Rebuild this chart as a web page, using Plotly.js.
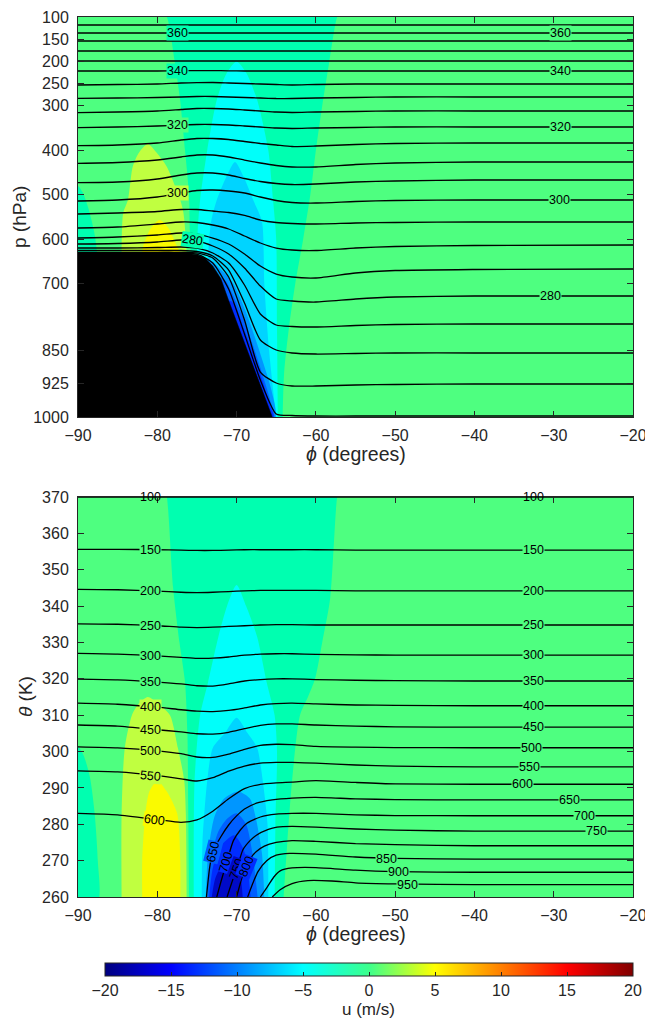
<!DOCTYPE html>
<html><head><meta charset="utf-8">
<script src="https://cdn.plot.ly/plotly-3.0.1.min.js"></script>
<style>html,body{margin:0;padding:0;background:#fff}#chart{width:645px;height:1019px}</style>
</head><body><div id="chart"></div>
<script>
// ---------------- axis ticks ----------------
const latTicks = [-90,-80,-70,-60,-50,-40,-30,-20];
const pTicks = [100,150,200,250,300,400,500,600,700,850,925,1000];
const thetaTicks = [260,270,280,290,300,310,320,330,340,350,360,370];
const cbTicks = [-20,-15,-10,-5,0,5,10,15,20];

// ---------------- top panel: isentropes (theta, K) as p (hPa) at sample latitudes ----------------
const topLat = [-90,-85,-80,-77,-75,-73,-71,-69,-67,-65,-63,-60,-55,-50,-40,-20];
const thetaLevels = [365,360,355,350,345,340,335,330,325,320,315,310,305,300,295,290,285,280,275,270,265,260];
const isentropeP = [
 [118,118,118,118,118,118,118,118,118,118,118,118,118,118,118,118],
 [136,136,136,136,136,136,136,136,136,136,136,136,136,136,136,136],
 [154,154,154,154,154,154,154,154,154,154,154,154,154,154,154,154],
 [176.5,176.5,176.5,176.5,176.5,176.5,176.5,176.5,176.5,176.5,176.5,176.5,176.5,176.5,176.5,176.5],
 [199,199,199,199,199,199,199,199,199,199,199,199,199,199,199,199],
 [221.5,221.5,221.5,221,220.5,220.5,221,221.5,221.5,221.5,221.5,221.5,221.5,221.5,221.5,221.5],
 [253,251.9,250.8,248.5,247.8,247.4,248.5,249.6,250.8,251.9,253,251.9,250.8,250.8,250.8,250.8],
 [282.9,282.3,281.1,280,278.9,278.9,280,281.1,282.3,283.4,283.4,282.3,281.1,280,280,280],
 [315.3,313.8,311.5,308.1,305.9,305.9,307,309.3,311.5,313.8,314.9,313.8,312.6,311.5,311.5,311.5],
 [349.1,347.5,345.3,343,341.9,341.9,343,345.3,347.5,349.8,350.9,349.8,348.6,347.5,347.5,347.5],
 [389.6,388,383.5,376.8,373.4,373.4,375.6,380.1,384.6,388,391.4,390.3,386.9,384.6,383.5,383.5],
 [429.2,427.4,421.8,415,410.5,410.5,415,421.8,428.5,434.1,437.5,437.5,431.9,428.5,426.3,426.3],
 [472.8,471.3,464.5,455.5,451,451,455.5,463.4,470.1,474.6,476.9,475.8,471.3,469,466.8,466.8],
 [514,511.8,505,496,490.4,489.3,491.5,496,505,512.9,517.4,518.5,515.1,512.9,511.8,511.8],
 [543.3,541,537.6,533.1,533.1,536.5,539.9,546.6,556.8,562.4,564.6,565.8,563.5,562.4,561.3,561.3],
 [574.8,572.5,565.8,561.3,562.4,568,577,592.8,608.5,619.8,624.3,625.4,619.8,616.4,614.1,613],
 [597.3,595,590.5,586,588.3,597.3,610.8,633.3,660.3,678.3,685,687.3,676,670.4,668.1,667],
 [610.8,609.6,606.3,601.8,604,615.3,633.3,664.8,705.3,734.5,739,741.3,734.5,730,727.8,727.8],
 [619.8,619.8,618.6,617.5,619.8,631,653.5,703,768.3,793,796.4,797.5,794.1,791.9,790.8,790.8],
 [625.4,625.4,625.4,625.4,627.6,637.8,669.3,743.5,826.8,849.3,856,858.3,857.1,856,856,856],
 [629.4,629.4,629.4,629.4,630.6,642.3,685,781.8,898.8,923.5,930.3,930.3,928,926.9,925.8,925.8],
 [632,632,632,632,633.3,653.5,712,813.3,916.8,993.3,996.6,997.8,997.8,997.8,997.8,997.8]
];
// terrain (black) outline
const terrainLat = [-90,-77,-76,-75,-74,-73,-72,-71,-70,-69,-68,-67,-66,-65.5,-65.5,-90];
const terrainP   = [632,632,632.5,634.5,642,660,688,738,785,833,881,929,976,1000,1005,1005];

// top panel u bands (lat, p)
const topCGLat = [-75.8,-75.8,-75.9,-76.0,-76.5,-77.1,-77.8,-78.8,-79.2,-57.0,-57.3,-58.3,-59.2,-60.0,-60.7,-61.6,-62.6,-63.4,-64.0,-64.2];
const topCGP   = [1005,630,580,500,400,290,200,100,95,95,100,200,300,400,500,600,700,800,900,1005];
const topCLat  = [-75.0,-75.0,-74.9,-74.6,-73.7,-72.5,-71.3,-70.0,-68.7,-67.4,-66.0,-65.4,-65.0,-64.9,-64.8];
const topCP    = [1005,640,580,512,400,287,228,200,228,287,400,512,600,800,1005];
const topLBLat = [-73.6,-73.6,-73.2,-72.5,-71.3,-70.2,-69.1,-67.9,-66.8,-66.5,-65.9,-65.0];
const topLBP   = [1005,640,560,512,460,426,460,512,560,700,850,1005];
const topB10Lat = [-76,-73.5,-71.9,-70.4,-68.9,-67.7,-66.6,-65.6,-65.2,-76];
const topB10P   = [645,645,670,700,760,820,880,940,1005,1005];
const topB12Lat = [-76,-71.6,-70.6,-69.1,-67.9,-66.8,-65.8,-65.3,-76];
const topB12P   = [690,690,720,780,840,900,960,1005,1005];
const topB15Lat = [-76,-70.6,-69.1,-67.85,-66.7,-65.85,-65.35,-76];
const topB15P   = [740,740,800,860,920,970,1005,1005];
const topYGLat = [-84.5,-84.5,-84.3,-83.7,-83.1,-82.3,-81.2,-80.1,-78.8,-77.1,-76.7,-76.3,-76.3];
const topYGP   = [1005,631,541,512,437,405,386,405,437,512,541,631,1005];
const topYLat  = [-81.9,-81.9,-81.8,-80.8,-79.7,-78.6,-77.5,-77.1,-77.1];
const topYP    = [1005,631,617,575,557,575,617,631,1005];
const topLCGLat = [-90.5,-90,-89.4,-88.7,-88.0,-87.6,-87.6,-90.5];
const topLCGP   = [480,480,495,530,580,632,1005,1005];

// ---------------- bottom panel: isobars (hPa) as theta (K) ----------------
const botLat = [-90,-85,-80,-77,-75,-73,-71,-69,-67,-65,-63,-60,-55,-50,-40,-20];
const isobarLevels = [100,150,200,250,300,350,400,450,500,550,600];
const isobarTheta = [
 [370,370,370,370,370,370,370,370,370,370,370,370,370,370,370,370],
 [355.6,355.6,355.5,355.4,355.3,355.3,355.4,355.5,355.5,355.5,355.5,355.5,355.4,355.4,355.4,355.4],
 [344.6,344.5,344.1,343.8,343.7,343.8,344.0,344.2,344.3,344.3,344.3,344.3,344.2,344.2,344.2,344.2],
 [335.1,335.0,334.6,334.2,334.1,334.2,334.4,334.6,334.8,334.9,334.9,334.8,334.8,334.8,334.8,334.8],
 [327.0,326.8,326.3,325.9,325.6,325.7,326.0,326.5,326.8,326.9,326.9,326.7,326.6,326.5,326.5,326.5],
 [319.9,319.7,319.1,318.6,318.1,318.0,318.6,319.4,319.8,320.0,320.0,319.8,319.6,319.5,319.4,319.4],
 [313.3,313.0,312.2,311.5,311.1,311.0,311.3,312.0,312.8,313.2,313.3,313.1,312.8,312.7,312.6,312.6],
 [307.3,307.0,306.0,305.4,304.9,304.8,305.3,306.3,307.2,307.6,307.6,307.3,307.0,306.8,306.7,306.7],
 [301.3,301.0,300.2,299.4,298.5,298.4,299.3,300.6,301.7,302.0,301.9,301.4,301.2,301.1,301.05,301.05],
 [294.7,294.4,293.4,292.5,291.9,292.8,294.6,296.0,296.8,297.0,297.0,296.8,296.3,296.0,295.8,295.8],
 [283.0,282.6,281.3,280.5,281.2,283.6,287.0,289.8,291.0,291.4,291.6,292.0,291.5,291.1,291.0,291.0]
];
const p650Lat = [-73.8,-73.4,-73.0,-72.0,-71.0,-70.0,-69.0,-67.5,-65.5,-63,-60,-55,-50,-40,-20];
const p650Th  = [260,268,272.5,276.5,279.8,282.3,284.2,285.8,286.7,287.2,287.4,287.0,286.8,286.7,286.7];
const p700Lat = [-72.5,-72.0,-71.25,-70.4,-69.5,-68.7,-67.0,-65.0,-63,-60,-55,-50,-40,-20];
const p700Th  = [260,264,269.5,275.5,278.5,280.3,282.0,282.8,283.0,283.0,282.6,282.4,282.35,282.35];
const p750Lat = [-71.2,-70.6,-70.0,-69.2,-68.3,-67.5,-66.0,-64.9,-63,-60,-55,-50,-40,-20];
const p750Th  = [260,264,267.5,273,275.5,277,278.6,279.2,279.4,279.2,278.7,278.4,278.1,278.1];
const p800Lat = [-70.0,-69.5,-69.0,-68.3,-67.5,-66.5,-65.0,-63.0,-60,-55,-50,-40,-20];
const p800Th  = [260,264,267.5,270.5,272.5,274.0,275.0,275.5,275.3,274.7,274.4,274.1,274.1];
const p850Lat = [-68.6,-68.0,-67.3,-66.2,-65.0,-63.3,-60,-55,-50,-40,-20];
const p850Th  = [260,263.5,267,270,271.5,272,271.8,271,270.6,270.4,270.4];
const p900Lat = [-67.0,-66.2,-65.3,-64.5,-63,-60,-55,-50,-40,-20];
const p900Th  = [260,262.5,265.5,267.2,268,268.1,267.4,267,266.8,266.8];
const p950Lat = [-65.5,-64.5,-63,-61,-58,-55,-50,-40,-20];
const p950Th  = [260,262,263.7,264.5,264.4,263.9,263.6,263.4,263.4];

// bottom panel u bands (lat, theta)
const botCGLat = [-76.0,-76.1,-76.2,-76.5,-77.2,-78.0,-78.8,-79.0,-57.1,-57.3,-58.2,-59.2,-60.1,-61.0,-62.0,-63.0,-63.6,-64.1];
const botCGTh  = [259,285,305,319,330,345,370,371,371,370,342,330,320,315,310,292,275,259];
const botCLat  = [-75.4,-75.3,-74.6,-73.6,-72.3,-71.2,-70.0,-68.8,-67.4,-66.2,-65.2,-64.9,-65.1,-65.2];
const botCTh   = [259,292,310,319,331.5,340,345.8,340,331.5,319,310,300,280,259];
const botLBLat = [-74.4,-74.3,-73.7,-73.0,-71.5,-70.0,-68.6,-67.4,-66.7,-66.1,-66.0];
const botLBTh  = [259,275,292,301,305,309.3,305,301,292,280,259];
const botB10Lat = [-73.9,-73.6,-72.8,-71.6,-69.8,-68.3,-67.6,-66.8,-66.5];
const botB10Th  = [259,272,282,287,289,287,282,272,259];
const botB12Lat = [-73.7,-73.3,-72.3,-71.2,-70.0,-68.8,-68.0,-67.3];
const botB12Th  = [259,270,278,281.5,283,280,272,259];
const botB15Lat = [-73.5,-73.0,-72.0,-70.3,-69.1,-68.5,-68.2];
const botB15Th  = [259,268,274,277,273,266,259];
const botB17Lat = [-73.2,-72.7,-71.8,-70.8,-69.9,-69.4,-69.2];
const botB17Th  = [259,265,269,270.5,268,264,259];
const botYGLat = [-84.5,-84.5,-84.1,-83.2,-82.4,-81.2,-79.8,-78.4,-77.4,-76.6,-76.4,-76.3];
const botYGTh  = [259,283,301,310,313,315,313,310,301,292,283,259];
const botYLat  = [-81.9,-81.9,-81.5,-81.0,-80.0,-78.8,-77.5,-77.1,-77.1];
const botYTh   = [259,270,283,289,292,289,283,270,259];
const botLCGLat = [-90.5,-90.0,-89.3,-88.5,-87.9,-87.5,-87.5,-90.5];
const botLCGTh  = [301.3,301.3,299,293,283,270,259,259];

// band lower levels (m/s)
const LV = {cg:-2.5, c:-5, lb:-7.5, b10:-10, b12:-12.5, b15:-15, b17:-17.5, yg:2.5, y:5, bg:0};

// contour labels
const topLabelText = ['360','340','320','300','280','360','340','320','300','280'];
const topLabelLat  = [-77.5,-77.5,-77.5,-77.5,-75.6,-29.2,-29.2,-29.2,-29.3,-30.4];
const topLabelP    = [136,221.5,343,496,602,136,221.5,347.5,511.8,727.8];
const topLabelBand = [-2.5,-2.5,0,2.5,-2.5,0,0,0,0,0];
const topLabelAng  = [0,0,0,0,8,0,0,0,0,0];

const botLabelText = ['100','150','200','250','300','350','400','450','500','550','600',
  '100','150','200','250','300','350','400','450','500','550','600','650','700','750','850','900','950',
  '650','700','750','800'];
const botLabelLat = [-80.9,-80.9,-80.9,-80.9,-80.9,-80.9,-80.9,-80.9,-80.9,-80.9,-80.3,
  -32.6,-32.6,-32.6,-32.6,-32.6,-32.6,-32.6,-32.6,-32.8,-33.0,-33.9,-28.0,-26.1,-24.6,-51.1,-49.6,-48.4,
  -73.0,-71.3,-70.0,-68.8];
const botLabelTh = [370,355.5,344.1,334.6,326.3,319.1,312.2,306.0,300.2,293.4,281.3,
  370,355.4,344.2,334.8,326.5,319.4,312.6,306.7,301.05,295.8,291.0,286.7,282.35,278.1,270.4,266.8,263.4,
  272.5,269.5,267.8,268.3];
const botLabelBand = [null,0,0,0,0,0,2.5,2.5,2.5,2.5,5,
  null,0,0,0,0,0,0,0,0,0,0,0,0,0,0,0,0,
  -12.5,-15,-17.5,-15];
const botLabelAng = [0,0,0,0,0,0,0,0,0,5,8,
  0,0,0,0,0,0,0,0,0,0,0,0,0,0,0,0,0,
  -76,-73,-70,-68];

// ---------------- styling ----------------
const BAND_COLOR = {'-17.5':'rgb(0,10,200)','-15':'rgb(0,45,255)','-12.5':'rgb(0,95,255)','-10':'rgb(0,150,255)',
  '-7.5':'rgb(0,212,255)','-5':'rgb(0,255,250)','-2.5':'rgb(0,255,176)','0':'rgb(78,255,128)','2.5':'rgb(192,255,64)','5':'rgb(250,250,0)'};
function col(v){return BAND_COLOR[String(v)];}
const jetScale=[[0,'rgb(0,0,128)'],[0.125,'rgb(0,0,255)'],[0.375,'rgb(0,255,255)'],[0.5,'rgb(60,255,140)'],[0.625,'rgb(255,255,0)'],[0.875,'rgb(255,0,0)'],[1,'rgb(128,0,0)']];
const FONT='Liberation Sans, Arial, Helvetica, sans-serif';
const AX='#262626';

function band(lat,y,lvl,xa,ya){
  return {type:'scatter',mode:'lines',x:lat,y:y,xaxis:xa,yaxis:ya,fill:'toself',fillcolor:col(lvl),
    line:{width:0,shape:'spline',smoothing:0.7,color:col(lvl)},hoverinfo:'skip',showlegend:false};
}
function cline(lat,y,xa,ya){
  return {type:'scatter',mode:'lines',x:lat,y:y,xaxis:xa,yaxis:ya,
    line:{width:1.3,color:'#000',shape:'spline',smoothing:0.6},hoverinfo:'skip',showlegend:false};
}

const traces=[];
traces.push(band(topCGLat,topCGP,LV.cg,'x','y'));
traces.push(band(topCLat,topCP,LV.c,'x','y'));
traces.push(band(topLBLat,topLBP,LV.lb,'x','y'));
traces.push(band(topB10Lat,topB10P,LV.b10,'x','y'));
traces.push(band(topB12Lat,topB12P,LV.b12,'x','y'));
traces.push(band(topB15Lat,topB15P,LV.b15,'x','y'));
traces.push(band(topYGLat,topYGP,LV.yg,'x','y'));
traces.push(band(topYLat,topYP,LV.y,'x','y'));
traces.push(band(topLCGLat,topLCGP,LV.cg,'x','y'));
thetaLevels.forEach((lv,i)=>traces.push(cline(topLat,isentropeP[i],'x','y')));
traces.push({type:'scatter',mode:'lines',x:terrainLat,y:terrainP,xaxis:'x',yaxis:'y',fill:'toself',
  fillcolor:'#000',line:{width:0.5,color:'#000'},hoverinfo:'skip',showlegend:false});

traces.push(band(botCGLat,botCGTh,LV.cg,'x2','y2'));
traces.push(band(botCLat,botCTh,LV.c,'x2','y2'));
traces.push(band(botLBLat,botLBTh,LV.lb,'x2','y2'));
traces.push(band(botB10Lat,botB10Th,LV.b10,'x2','y2'));
traces.push(band(botB12Lat,botB12Th,LV.b12,'x2','y2'));
traces.push(band(botB15Lat,botB15Th,LV.b15,'x2','y2'));
traces.push(band(botB17Lat,botB17Th,LV.b17,'x2','y2'));
traces.push(band(botYGLat,botYGTh,LV.yg,'x2','y2'));
traces.push(band(botYLat,botYTh,LV.y,'x2','y2'));
traces.push(band(botLCGLat,botLCGTh,LV.cg,'x2','y2'));
isobarLevels.forEach((lv,i)=>traces.push(cline(botLat,isobarTheta[i],'x2','y2')));
[[p650Lat,p650Th],[p700Lat,p700Th],[p750Lat,p750Th],[p800Lat,p800Th],[p850Lat,p850Th],[p900Lat,p900Th],[p950Lat,p950Th]]
  .forEach(a=>traces.push(cline(a[0],a[1],'x2','y2')));

traces.push({type:'scatter',mode:'markers',x:[null],y:[null],xaxis:'x2',yaxis:'y2',hoverinfo:'skip',showlegend:false,
  marker:{color:[0],cmin:-20,cmax:20,colorscale:jetScale,showscale:true,opacity:0,
    colorbar:{orientation:'h',x:369/645,xanchor:'center',len:528/645,lenmode:'fraction',
      y:1-963/1019,yanchor:'top',thickness:13,thicknessmode:'pixels',xpad:0,ypad:0,
      outlinewidth:1,outlinecolor:AX,tickvals:cbTicks,ticks:'inside',ticklen:4,tickcolor:AX,
      tickfont:{family:FONT,size:16,color:AX}}}});

const axBase={showgrid:false,zeroline:false,showline:true,linecolor:AX,linewidth:1,mirror:'ticks',
  ticks:'inside',ticklen:6,tickwidth:1,tickcolor:AX,tickfont:{family:FONT,size:16,color:AX},ticklabeloverflow:'allow'};
const xd=[78/645,633/645];
const layout={
  width:645,height:1019,margin:{l:0,r:0,t:0,b:0},paper_bgcolor:'#fff',plot_bgcolor:col(LV.bg),
  showlegend:false,
  xaxis:Object.assign({},axBase,{domain:xd,range:[-90,-20],tickvals:latTicks,anchor:'y',ticklabelstandoff:4}),
  yaxis:Object.assign({},axBase,{domain:[1-417/1019,1-17/1019],range:[1000,100],tickvals:pTicks,anchor:'x',ticklabelstandoff:5}),
  xaxis2:Object.assign({},axBase,{domain:xd,range:[-90,-20],tickvals:latTicks,anchor:'y2',ticklabelstandoff:4}),
  yaxis2:Object.assign({},axBase,{domain:[1-897/1019,1-497/1019],range:[260,370],tickvals:thetaTicks,anchor:'x2',ticklabelstandoff:5}),
  annotations:[]
};
const A=layout.annotations;
function titleAnn(text,x,y,ang,size){A.push({xref:'paper',yref:'paper',x:x/645,y:1-y/1019,text:text,showarrow:false,
  textangle:ang||0,xanchor:'center',yanchor:'middle',font:{family:FONT,size:size,color:AX}});}
titleAnn('<i>ϕ</i> (degrees)',355.5,454,0,19.5);
titleAnn('<i>ϕ</i> (degrees)',355.5,934,0,19.5);
titleAnn('p (hPa)',19,217,-90,19);
titleAnn('<i>θ</i> (K)',25,697,-90,19);
titleAnn('u (m/s)',369,1009,0,17);

function lab(xr,yr,text,x,y,bandLv,ang){
  A.push({xref:xr,yref:yr,x:x,y:y,text:text,showarrow:false,textangle:ang,xanchor:'center',yanchor:'middle',
    font:{family:FONT,size:12.5,color:'#000'},bgcolor:(bandLv===null?'rgba(0,0,0,0)':col(bandLv)),borderpad:0});
}
topLabelText.forEach((t,i)=>lab('x','y',t,topLabelLat[i],topLabelP[i],topLabelBand[i],topLabelAng[i]));
botLabelText.forEach((t,i)=>lab('x2','y2',t,botLabelLat[i],botLabelTh[i],botLabelBand[i],botLabelAng[i]));

Plotly.newPlot('chart',traces,layout,{staticPlot:true,displayModeBar:false});
</script></body></html>
